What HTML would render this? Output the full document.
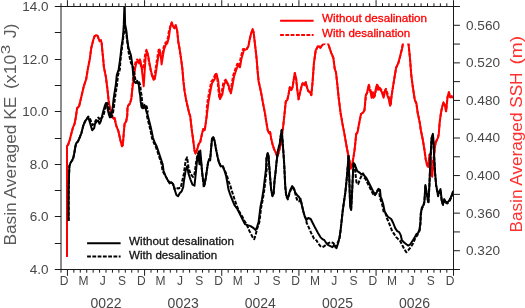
<!DOCTYPE html><html><head><meta charset="utf-8"><style>html,body{margin:0;padding:0;background:#fff;width:525px;height:308px;overflow:hidden}svg{display:block;will-change:transform}text{font-family:"Liberation Sans",sans-serif}</style></head><body>
<svg width="525" height="308" viewBox="0 0 525 308">
<path d="M67.0,257.0 L67.0,230.0 L67.0,200.0 L67.0,170.0 L67.0,146.0 L68.1,144.9 L68.9,142.4 L69.7,140.0 L70.7,136.0 L73.1,127.1 L74.5,124.1 L75.7,118.0 L77.1,108.3 L79.1,106.3 L81.7,95.2 L83.8,86.2 L86.2,79.1 L87.8,69.1 L89.8,59.0 L91.2,48.3 L93.2,40.2 L94.6,36.2 L96.2,35.2 L97.6,35.8 L98.8,39.2 L99.8,41.2 L100.9,40.2 L101.7,43.3 L102.3,50.3 L103.3,60.0 L103.9,67.1 L105.9,77.1 L107.3,88.0 L108.6,100.4 L109.9,108.2 L111.2,113.4 L112.5,117.3 L113.8,118.6 L114.7,117.9 L115.5,122.5 L116.4,126.1 L118.4,131.1 L120.4,140.2 L122.0,146.2 L122.8,145.2 L124.0,130.1 L124.6,123.8 L126.2,121.2 L127.2,116.0 L127.5,108.2 L128.1,105.6 L129.4,104.3 L130.3,102.3 L131.3,99.0 L132.3,89.0 L133.0,78.4 L134.4,67.4 L135.8,61.1 L137.2,59.4 L138.6,61.9 L139.9,59.4 L141.2,67.6 L141.7,66.4 L142.7,69.4 L143.8,64.4 L145.1,54.6 L146.4,49.8 L147.7,54.6 L148.8,61.1 L150.4,69.2 L151.6,74.1 L152.9,78.2 L154.2,77.4 L155.3,70.9 L156.5,62.8 L157.8,54.6 L159.0,48.1 L160.2,54.6 L160.8,56.4 L162.3,54.6 L163.4,48.1 L165.1,43.3 L166.7,41.6 L168.0,37.2 L169.0,30.4 L170.5,26.2 L171.7,22.5 L173.1,26.2 L174.5,28.2 L175.7,25.2 L177.1,30.2 L178.3,41.7 L179.7,49.5 L181.1,59.2 L182.4,69.0 L183.4,81.2 L184.6,91.2 L186.2,100.3 L187.8,107.3 L189.2,113.4 L190.2,116.0 L191.8,130.1 L193.2,140.2 L194.5,150.6 L195.5,153.5 L197.4,148.6 L198.8,143.8 L200.3,141.8 L201.9,134.1 L203.3,129.1 L204.7,130.1 L205.9,122.1 L206.8,115.0 L206.7,108.7 L207.8,99.7 L209.0,93.2 L210.2,86.7 L211.2,81.9 L213.5,78.5 L215.8,72.8 L217.4,79.6 L219.2,97.8 L221.5,93.2 L223.3,83.0 L225.6,79.6 L227.8,84.2 L230.1,92.1 L231.7,84.2 L233.3,75.1 L235.6,68.2 L237.4,63.7 L239.2,66.0 L240.8,56.9 L243.1,48.9 L246.8,49.1 L248.5,46.0 L249.5,40.2 L250.9,34.2 L252.6,29.2 L253.6,32.2 L255.0,44.3 L256.6,58.4 L257.6,71.1 L258.6,81.2 L260.2,88.2 L261.6,95.2 L263.0,103.3 L265.0,113.4 L266.0,120.1 L267.7,130.1 L269.1,133.1 L270.1,132.1 L271.1,138.2 L272.5,144.2 L274.1,149.2 L275.7,152.3 L277.1,156.3 L278.5,153.3 L279.7,148.2 L281.1,142.2 L282.1,134.1 L283.2,126.1 L284.2,117.0 L285.8,101.3 L287.2,100.3 L288.6,94.2 L289.8,87.2 L291.2,90.2 L292.6,87.2 L293.8,79.1 L294.8,73.1 L296.2,79.1 L297.2,89.2 L298.6,99.3 L299.9,93.2 L301.3,87.2 L302.7,83.2 L304.3,85.2 L305.7,82.2 L306.9,87.2 L308.3,91.2 L309.9,92.2 L311.3,95.2 L312.3,85.2 L312.8,79.0 L313.9,63.4 L315.7,50.4 L317.8,46.5 L319.0,46.2 L320.4,47.8 L322.5,44.7 L324.3,43.9 L326.0,38.0 L328.2,43.9 L329.5,47.8 L331.3,53.0 L333.4,58.2 L334.7,68.6 L336.0,72.5 L337.3,84.2 L338.6,97.1 L339.9,107.5 L340.7,114.0 L341.5,118.0 L342.5,124.1 L344.1,132.1 L345.5,140.2 L346.9,148.2 L348.5,156.3 L350.2,164.3 L350.6,168.6 L352.2,164.3 L353.6,156.3 L354.5,150.4 L355.0,146.2 L356.2,134.1 L357.6,132.1 L358.6,126.1 L359.8,120.0 L361.0,114.0 L362.4,113.0 L363.6,112.0 L364.5,110.0 L366.1,94.5 L367.4,92.2 L368.9,84.8 L370.1,88.8 L371.2,92.2 L372.0,96.7 L372.9,92.2 L373.8,96.7 L374.9,95.6 L376.3,87.6 L377.4,83.7 L378.4,88.8 L379.5,87.6 L380.6,88.8 L382.0,90.5 L383.1,93.9 L384.0,96.7 L384.8,91.0 L386.0,88.8 L387.1,92.2 L388.2,95.6 L389.4,99.0 L390.1,105.7 L390.9,103.4 L391.3,98.0 L392.3,91.2 L394.4,78.0 L396.1,67.8 L398.2,63.4 L400.2,56.1 L402.0,48.8 L403.1,42.9 L405.5,38.0 L408.4,42.9 L409.9,57.5 L411.3,75.1 L412.8,86.8 L414.8,99.9 L416.4,103.5 L417.7,113.1 L418.4,116.0 L420.0,124.1 L420.8,130.0 L422.8,139.7 L424.4,149.5 L425.7,159.2 L427.1,165.1 L428.3,167.0 L429.0,159.2 L429.6,154.4 L430.5,160.0 L431.5,166.0 L432.5,163.0 L434.1,155.3 L435.1,145.6 L436.4,140.7 L438.0,137.8 L438.8,133.9 L439.5,124.1 L440.5,116.0 L441.5,110.0 L442.1,107.3 L443.5,102.3 L444.9,105.3 L446.1,111.3 L447.5,97.3 L448.9,92.2 L450.2,97.3 L451.6,96.2 L452.6,98.3" fill="none" stroke="#ff0000" stroke-width="2.0" stroke-dasharray="3.8,1.5" stroke-linejoin="round"/>
<path d="M67.0,257.0 L67.0,230.0 L67.0,200.0 L67.0,170.0 L67.0,146.0 L68.1,144.9 L68.9,142.4 L69.7,140.0 L70.7,136.0 L73.1,127.1 L74.5,124.1 L75.7,118.0 L77.1,108.3 L79.1,106.3 L81.7,95.2 L83.8,86.2 L86.2,79.1 L87.8,69.1 L89.8,59.0 L91.2,48.3 L93.2,40.2 L94.6,36.2 L96.2,35.2 L97.6,35.8 L98.8,39.2 L99.8,41.2 L100.9,40.2 L101.7,43.3 L102.3,50.3 L103.3,60.0 L103.9,67.1 L105.9,77.1 L107.3,88.0 L108.6,100.4 L109.9,108.2 L111.2,113.4 L112.5,117.3 L113.8,118.6 L114.7,117.9 L115.5,122.5 L116.4,126.1 L118.4,131.1 L120.4,140.2 L122.0,146.2 L122.8,145.2 L124.0,130.1 L124.6,123.8 L126.2,121.2 L127.2,116.0 L127.5,108.2 L128.1,105.6 L129.4,104.3 L130.3,102.3 L131.3,99.0 L132.3,89.0 L133.6,80.0 L135.0,69.0 L136.4,62.7 L137.8,61.0 L139.2,63.5 L140.5,61.0 L141.8,69.2 L142.9,79.0 L143.7,86.3 L144.6,72.5 L145.7,56.2 L147.0,51.4 L148.3,56.2 L149.4,62.7 L151.0,70.8 L152.2,75.7 L153.5,79.8 L154.8,79.0 L155.9,72.5 L157.1,64.4 L158.4,56.2 L159.6,49.7 L160.8,56.2 L161.6,64.4 L162.9,56.2 L164.0,49.7 L165.7,44.9 L167.3,43.2 L168.6,38.8 L169.6,32.0 L170.5,26.2 L171.7,22.5 L173.1,26.2 L174.5,28.2 L175.7,25.2 L177.1,30.2 L178.3,41.7 L179.7,49.5 L181.1,59.2 L182.4,69.0 L183.4,81.2 L184.6,91.2 L186.2,100.3 L187.8,107.3 L189.2,113.4 L190.2,116.0 L191.8,130.1 L193.2,140.2 L194.5,150.6 L195.5,153.5 L197.4,148.6 L198.8,143.8 L200.3,141.8 L201.9,134.1 L203.3,129.1 L204.7,130.1 L205.9,122.1 L206.8,115.0 L207.5,110.0 L208.6,101.0 L209.8,94.5 L211.0,88.0 L212.0,83.2 L214.3,79.8 L216.6,74.1 L218.2,80.9 L220.0,99.1 L222.3,94.5 L224.1,84.3 L226.4,80.9 L228.6,85.5 L230.9,93.4 L232.5,85.5 L234.1,76.4 L236.4,69.5 L238.2,65.0 L240.0,67.3 L241.6,58.2 L243.9,50.2 L246.8,49.1 L248.5,46.0 L249.5,40.2 L250.9,34.2 L252.6,29.2 L253.6,32.2 L255.0,44.3 L256.6,58.4 L257.6,71.1 L258.6,81.2 L260.2,88.2 L261.6,95.2 L263.0,103.3 L265.0,113.4 L266.0,120.1 L267.7,130.1 L269.1,133.1 L270.1,132.1 L271.1,138.2 L272.5,144.2 L274.1,149.2 L275.7,152.3 L277.1,156.3 L278.5,153.3 L279.7,148.2 L281.1,142.2 L282.1,134.1 L283.2,126.1 L284.2,117.0 L285.8,101.3 L287.2,100.3 L288.6,94.2 L289.8,87.2 L291.2,90.2 L292.6,87.2 L293.8,79.1 L294.8,73.1 L296.2,79.1 L297.2,89.2 L298.6,99.3 L299.9,93.2 L301.3,87.2 L302.7,83.2 L304.3,85.2 L305.7,82.2 L306.9,87.2 L308.3,91.2 L309.9,92.2 L311.3,95.2 L312.3,85.2 L312.8,79.0 L313.9,63.4 L315.7,50.4 L317.8,46.5 L319.0,46.2 L320.4,47.8 L322.5,44.7 L324.3,43.9 L326.0,38.0 L328.2,43.9 L329.5,47.8 L331.3,53.0 L333.4,58.2 L334.7,68.6 L336.0,72.5 L337.3,84.2 L338.6,97.1 L339.9,107.5 L340.7,114.0 L341.5,118.0 L342.5,124.1 L344.1,132.1 L345.5,140.2 L346.9,148.2 L348.5,156.3 L350.2,164.3 L350.6,168.6 L352.2,164.3 L353.6,156.3 L354.5,150.4 L355.0,146.2 L356.2,134.1 L357.6,132.1 L358.6,126.1 L359.8,120.0 L361.0,114.0 L362.4,113.0 L363.6,112.0 L364.5,110.0 L365.7,95.5 L367.0,93.2 L368.5,85.8 L369.7,89.8 L370.8,93.2 L371.6,97.7 L372.5,93.2 L373.4,97.7 L374.5,96.6 L375.9,88.6 L377.0,84.7 L378.0,89.8 L379.1,88.6 L380.2,89.8 L381.6,91.5 L382.7,94.9 L383.6,97.7 L384.4,92.0 L385.6,89.8 L386.7,93.2 L387.8,96.6 L389.0,100.0 L390.1,105.7 L390.9,103.4 L391.3,98.0 L392.3,91.2 L394.4,78.0 L396.1,67.8 L398.2,63.4 L400.2,56.1 L402.0,48.8 L403.1,42.9 L405.5,38.0 L408.4,42.9 L409.9,57.5 L411.3,75.1 L412.8,86.8 L414.8,99.9 L416.4,103.5 L417.7,113.1 L418.4,116.0 L420.0,124.1 L420.8,130.0 L422.8,139.7 L424.4,149.5 L425.7,159.2 L427.1,165.1 L428.3,167.0 L429.0,159.2 L429.6,154.4 L430.6,163.1 L431.6,174.8 L432.2,176.8 L432.9,169.0 L434.1,155.3 L435.1,145.6 L436.4,140.7 L438.0,137.8 L438.8,133.9 L439.5,124.1 L440.5,116.0 L441.5,110.0 L442.1,107.3 L443.5,102.3 L444.9,105.3 L446.1,111.3 L447.5,97.3 L448.9,92.2 L450.2,97.3 L451.6,96.2 L452.6,98.3" fill="none" stroke="#ff0000" stroke-width="2.0" stroke-linejoin="round"/>
<path d="M68.6,221.0 L68.6,205.0 L68.7,190.0 L69.0,175.7 L69.4,166.0 L70.6,162.7 L72.2,160.3 L73.3,157.9 L74.3,153.0 L75.4,146.5 L76.2,143.2 L77.9,141.6 L79.5,138.0 L81.4,133.1 L83.4,125.3 L85.0,121.5 L86.3,119.5 L88.2,116.5 L89.8,118.0 L91.2,122.0 L92.6,125.0 L94.2,124.0 L95.5,121.0 L97.0,118.5 L98.5,117.5 L100.0,120.0 L101.0,118.5 L103.3,116.0 L104.6,110.8 L105.9,106.2 L107.2,103.0 L108.1,104.3 L109.2,110.8 L110.2,114.7 L111.1,117.3 L112.0,116.6 L113.1,112.1 L114.1,105.6 L114.8,99.1 L115.4,95.0 L117.0,84.8 L118.0,75.1 L119.9,69.2 L120.3,62.0 L121.2,54.0 L122.2,46.0 L123.2,38.0 L124.1,31.0 L125.0,27.0 L125.8,30.0 L126.6,36.0 L127.6,44.0 L128.6,52.0 L129.8,58.0 L131.0,63.0 L132.4,65.3 L134.7,75.1 L135.7,81.9 L137.1,82.9 L138.6,80.9 L140.2,84.8 L141.0,92.6 L141.6,95.2 L142.1,101.7 L142.9,106.9 L143.8,108.2 L144.7,106.9 L145.8,104.9 L146.8,106.9 L147.7,111.4 L146.6,114.7 L147.9,119.9 L149.2,125.1 L150.6,131.0 L152.0,138.0 L153.6,142.2 L155.6,146.2 L157.6,152.0 L159.6,158.0 L161.6,164.0 L162.6,171.0 L165.6,176.1 L167.7,180.1 L169.7,183.1 L171.1,182.1 L173.1,184.1 L174.5,189.1 L175.0,187.6 L178.0,188.5 L180.8,187.6 L183.8,174.0 L185.7,160.3 L187.1,157.4 L188.6,168.1 L190.6,174.0 L192.9,176.9 L194.5,174.0 L196.4,160.3 L198.0,153.5 L199.4,150.6 L200.7,158.4 L202.3,174.0 L203.8,187.6 L205.0,182.0 L205.8,177.9 L207.2,168.1 L208.1,162.3 L209.1,159.4 L210.1,160.3 L211.1,148.6 L212.0,138.9 L213.2,137.0 L214.6,140.8 L215.9,148.6 L217.5,156.4 L218.9,162.3 L220.8,166.2 L222.8,166.2 L224.7,171.1 L225.5,172.0 L227.0,176.0 L228.5,181.0 L230.4,186.0 L232.5,193.0 L234.5,199.2 L236.5,205.0 L238.5,210.0 L240.5,214.0 L242.5,217.0 L244.5,221.0 L246.5,224.1 L248.0,227.5 L249.5,231.1 L251.0,234.0 L252.6,237.1 L254.2,239.1 L255.6,235.1 L257.0,229.1 L259.4,222.0 L261.2,207.3 L262.8,199.2 L264.4,189.1 L265.8,177.1 L266.8,169.0 L266.5,158.3 L267.7,153.3 L268.5,155.3 L269.1,164.3 L270.1,177.1 L271.1,189.1 L272.5,196.2 L273.7,193.2 L274.5,181.1 L275.7,171.0 L276.5,162.3 L277.5,154.3 L278.5,148.2 L279.7,144.2 L280.7,136.2 L281.7,130.1 L282.5,140.2 L283.4,152.3 L284.2,164.3 L285.2,186.3 L286.2,196.4 L287.8,199.4 L289.2,194.4 L290.6,190.3 L292.2,187.3 L294.2,189.5 L295.4,194.0 L296.6,198.5 L298.0,201.5 L299.5,201.2 L300.6,199.0 L301.9,205.2 L303.3,211.3 L304.7,216.3 L306.3,219.0 L306.6,222.8 L308.1,225.9 L309.6,229.3 L311.1,232.9 L312.6,235.8 L314.1,238.9 L316.6,240.5 L318.0,243.2 L320.4,246.2 L322.4,247.2 L323.8,246.5 L325.4,245.2 L327.0,244.0 L328.4,243.2 L330.4,242.2 L332.0,242.5 L333.5,243.2 L335.5,247.2 L337.5,243.2 L339.5,239.1 L340.5,231.1 L341.5,222.0 L342.8,210.1 L344.1,201.0 L345.4,192.0 L346.7,179.0 L348.0,163.4 L348.5,156.0 L349.3,179.0 L350.1,205.0 L351.1,210.1 L352.1,192.0 L352.9,175.0 L353.6,163.0 L354.9,166.2 L355.7,176.0 L356.5,182.5 L358.1,184.1 L359.7,180.0 L361.4,176.0 L363.0,173.5 L363.8,177.2 L365.4,178.8 L367.9,183.7 L370.3,188.5 L372.7,193.4 L374.4,195.8 L376.0,193.4 L377.6,190.1 L379.2,191.0 L379.9,198.4 L380.9,200.4 L382.4,205.4 L383.8,212.5 L386.2,214.3 L386.2,217.0 L388.2,221.0 L390.2,226.1 L392.2,231.1 L394.2,234.1 L396.2,237.1 L398.2,239.1 L400.3,241.2 L402.3,245.2 L404.3,249.2 L406.3,252.2 L408.3,250.2 L410.7,247.2 L413.3,243.2 L415.3,238.1 L417.4,235.1 L419.4,230.1 L419.4,232.1 L420.4,224.0 L420.8,214.3 L422.0,208.3 L423.4,206.2 L424.4,202.2 L425.4,186.1 L426.4,192.2 L427.4,198.2 L428.4,203.2 L429.4,186.0 L430.4,161.0 L431.6,138.8 L432.9,134.9 L433.5,142.7 L434.1,156.3 L435.1,173.9 L436.1,185.6 L438.1,196.2 L439.5,192.2 L440.5,190.1 L441.8,201.8 L443.0,205.0 L444.3,200.1 L445.6,202.6 L447.2,203.4 L449.1,201.8 L450.8,198.5 L452.1,195.3 L453.2,191.0" fill="none" stroke="#000" stroke-width="2.0" stroke-dasharray="3.8,1.5" stroke-linejoin="round"/>
<path d="M68.6,221.0 L68.6,205.0 L68.7,190.0 L69.0,175.7 L69.4,166.0 L70.6,162.7 L72.2,160.3 L73.3,157.9 L74.3,153.0 L75.4,146.5 L76.2,143.2 L77.9,141.6 L79.5,138.0 L81.4,133.1 L83.4,125.3 L85.0,121.5 L86.3,119.5 L88.3,117.5 L90.2,123.4 L92.2,130.2 L94.2,128.1 L95.0,123.8 L97.0,121.2 L98.2,120.5 L99.5,123.8 L100.8,121.2 L102.1,116.0 L103.4,110.8 L104.7,106.2 L106.0,103.0 L106.9,104.3 L108.0,110.8 L109.0,114.7 L109.9,117.3 L110.8,116.6 L111.9,112.1 L112.9,105.6 L113.6,99.1 L114.2,95.0 L115.8,84.8 L116.8,75.1 L118.7,69.2 L120.1,59.5 L121.6,45.8 L122.6,40.0 L123.3,32.5 L123.8,24.4 L124.1,15.0 L124.4,7.0 L124.7,7.0 L124.9,15.0 L125.1,24.4 L125.7,27.5 L126.4,31.0 L126.9,36.0 L127.4,41.0 L128.5,47.8 L131.0,55.6 L132.4,65.3 L133.3,75.1 L134.3,81.9 L135.7,82.9 L137.2,80.9 L138.8,84.8 L139.6,92.6 L140.2,95.2 L140.7,101.7 L141.5,106.9 L142.4,108.2 L143.3,106.9 L144.4,104.9 L145.4,106.9 L146.3,111.4 L147.6,114.7 L148.9,119.9 L150.2,125.1 L151.6,131.0 L153.0,138.0 L154.6,142.2 L156.6,146.2 L158.6,152.0 L160.6,158.0 L162.6,164.0 L163.6,171.0 L165.6,176.1 L167.7,180.1 L169.7,183.1 L171.1,182.1 L173.1,184.1 L174.5,189.1 L176.5,195.2 L178.1,196.2 L179.7,193.2 L181.7,191.2 L183.2,187.1 L183.8,181.8 L185.7,170.1 L187.1,166.2 L188.6,174.0 L190.6,179.8 L192.5,184.7 L194.5,185.7 L196.1,170.1 L197.4,156.4 L198.4,154.5 L199.4,164.2 L200.3,150.6 L201.3,162.3 L202.3,174.0 L203.7,183.7 L204.6,184.7 L205.8,177.9 L207.2,168.1 L208.1,162.3 L209.1,159.4 L210.1,160.3 L211.1,148.6 L212.0,138.9 L213.2,137.0 L214.6,140.8 L215.9,148.6 L217.5,156.4 L218.9,162.3 L220.8,166.2 L222.8,166.2 L224.7,171.1 L226.1,175.9 L227.4,183.1 L228.4,189.1 L230.4,195.2 L232.4,200.2 L234.5,205.2 L236.9,208.3 L238.5,211.3 L240.5,215.3 L242.5,219.3 L244.9,224.1 L247.5,225.1 L250.6,226.1 L253.6,228.1 L255.6,230.1 L257.0,227.1 L258.6,222.0 L260.4,207.3 L262.0,199.2 L263.6,189.1 L265.0,177.1 L266.0,169.0 L266.5,158.3 L267.7,153.3 L268.5,155.3 L269.1,164.3 L270.1,177.1 L271.1,189.1 L272.5,196.2 L273.7,193.2 L274.5,181.1 L275.7,171.0 L276.5,162.3 L277.5,154.3 L278.5,148.2 L279.7,144.2 L280.7,136.2 L281.7,130.1 L282.5,140.2 L283.4,152.3 L284.2,164.3 L285.2,185.1 L286.2,195.2 L287.8,198.2 L289.2,193.2 L290.6,189.1 L292.2,186.1 L293.8,188.1 L295.2,192.2 L297.2,195.2 L299.2,197.2 L300.7,200.2 L301.9,205.2 L303.3,211.3 L304.7,216.3 L306.3,220.0 L308.3,218.0 L310.7,219.0 L312.7,223.0 L315.3,228.1 L318.0,233.1 L320.4,237.1 L322.4,239.1 L324.4,240.2 L326.4,243.2 L328.4,245.2 L330.4,246.2 L332.4,247.2 L334.1,245.2 L335.5,246.2 L336.5,248.2 L338.1,243.2 L339.5,237.1 L340.5,231.1 L341.5,222.0 L342.8,210.1 L344.1,201.0 L345.4,192.0 L346.7,179.0 L348.0,163.4 L348.5,156.0 L349.3,179.0 L350.1,205.0 L351.1,210.1 L352.1,192.0 L352.9,175.0 L353.6,163.0 L354.9,164.6 L356.0,168.0 L357.3,171.1 L359.7,172.7 L361.4,174.4 L363.0,173.5 L364.6,176.0 L366.2,177.6 L368.7,182.5 L371.1,187.3 L373.5,192.2 L375.2,194.6 L376.8,192.2 L378.4,188.9 L380.0,189.8 L380.7,197.2 L381.7,199.2 L383.2,204.2 L384.6,211.3 L386.2,214.3 L388.2,217.0 L391.2,219.0 L393.2,223.0 L395.2,228.1 L397.2,231.1 L399.2,232.1 L400.7,235.1 L401.9,240.2 L403.9,242.2 L406.3,244.2 L408.3,245.6 L410.3,244.2 L412.3,241.2 L414.3,238.1 L416.4,234.1 L418.0,233.1 L419.4,230.1 L420.4,223.0 L420.8,213.3 L422.0,207.3 L423.4,205.2 L424.4,201.2 L425.4,185.1 L426.4,191.2 L427.4,197.2 L428.4,202.2 L429.4,185.0 L430.4,160.0 L431.6,137.8 L432.9,133.9 L433.5,141.7 L434.1,155.3 L435.1,172.9 L436.1,184.6 L438.1,195.2 L439.5,191.2 L440.5,189.1 L441.8,200.8 L443.0,204.0 L444.3,199.1 L445.6,201.6 L447.2,202.4 L449.1,200.8 L450.8,197.5 L452.1,194.3 L453.2,191.0" fill="none" stroke="#000" stroke-width="2.0" stroke-linejoin="round"/>
<g stroke="#1a1a1a" stroke-width="1" fill="none">
<line x1="60.5" y1="6.5" x2="454.0" y2="6.5"/>
<line x1="60.5" y1="269.5" x2="454.0" y2="269.5"/>
<line x1="61.0" y1="6.5" x2="61.0" y2="269.5"/>
<line x1="453.5" y1="6.5" x2="453.5" y2="269.5"/>
<line x1="61.00" y1="6.5" x2="61.00" y2="3.30"/>
<line x1="61.00" y1="269.5" x2="61.00" y2="272.70"/>
<line x1="67.43" y1="6.5" x2="67.43" y2="0.20"/>
<line x1="67.43" y1="269.5" x2="67.43" y2="275.80"/>
<line x1="73.86" y1="6.5" x2="73.86" y2="3.30"/>
<line x1="73.86" y1="269.5" x2="73.86" y2="272.70"/>
<line x1="80.29" y1="6.5" x2="80.29" y2="3.30"/>
<line x1="80.29" y1="269.5" x2="80.29" y2="272.70"/>
<line x1="86.72" y1="6.5" x2="86.72" y2="3.30"/>
<line x1="86.72" y1="269.5" x2="86.72" y2="272.70"/>
<line x1="93.15" y1="6.5" x2="93.15" y2="3.30"/>
<line x1="93.15" y1="269.5" x2="93.15" y2="272.70"/>
<line x1="99.58" y1="6.5" x2="99.58" y2="3.30"/>
<line x1="99.58" y1="269.5" x2="99.58" y2="272.70"/>
<line x1="106.01" y1="6.5" x2="106.01" y2="3.30"/>
<line x1="106.01" y1="269.5" x2="106.01" y2="272.70"/>
<line x1="112.44" y1="6.5" x2="112.44" y2="3.30"/>
<line x1="112.44" y1="269.5" x2="112.44" y2="272.70"/>
<line x1="118.87" y1="6.5" x2="118.87" y2="3.30"/>
<line x1="118.87" y1="269.5" x2="118.87" y2="272.70"/>
<line x1="125.30" y1="6.5" x2="125.30" y2="3.30"/>
<line x1="125.30" y1="269.5" x2="125.30" y2="272.70"/>
<line x1="131.73" y1="6.5" x2="131.73" y2="3.30"/>
<line x1="131.73" y1="269.5" x2="131.73" y2="272.70"/>
<line x1="138.16" y1="6.5" x2="138.16" y2="3.30"/>
<line x1="138.16" y1="269.5" x2="138.16" y2="272.70"/>
<line x1="144.59" y1="6.5" x2="144.59" y2="0.20"/>
<line x1="144.59" y1="269.5" x2="144.59" y2="275.80"/>
<line x1="151.02" y1="6.5" x2="151.02" y2="3.30"/>
<line x1="151.02" y1="269.5" x2="151.02" y2="272.70"/>
<line x1="157.45" y1="6.5" x2="157.45" y2="3.30"/>
<line x1="157.45" y1="269.5" x2="157.45" y2="272.70"/>
<line x1="163.88" y1="6.5" x2="163.88" y2="3.30"/>
<line x1="163.88" y1="269.5" x2="163.88" y2="272.70"/>
<line x1="170.31" y1="6.5" x2="170.31" y2="3.30"/>
<line x1="170.31" y1="269.5" x2="170.31" y2="272.70"/>
<line x1="176.74" y1="6.5" x2="176.74" y2="3.30"/>
<line x1="176.74" y1="269.5" x2="176.74" y2="272.70"/>
<line x1="183.17" y1="6.5" x2="183.17" y2="3.30"/>
<line x1="183.17" y1="269.5" x2="183.17" y2="272.70"/>
<line x1="189.60" y1="6.5" x2="189.60" y2="3.30"/>
<line x1="189.60" y1="269.5" x2="189.60" y2="272.70"/>
<line x1="196.03" y1="6.5" x2="196.03" y2="3.30"/>
<line x1="196.03" y1="269.5" x2="196.03" y2="272.70"/>
<line x1="202.46" y1="6.5" x2="202.46" y2="3.30"/>
<line x1="202.46" y1="269.5" x2="202.46" y2="272.70"/>
<line x1="208.89" y1="6.5" x2="208.89" y2="3.30"/>
<line x1="208.89" y1="269.5" x2="208.89" y2="272.70"/>
<line x1="215.32" y1="6.5" x2="215.32" y2="3.30"/>
<line x1="215.32" y1="269.5" x2="215.32" y2="272.70"/>
<line x1="221.75" y1="6.5" x2="221.75" y2="0.20"/>
<line x1="221.75" y1="269.5" x2="221.75" y2="275.80"/>
<line x1="228.18" y1="6.5" x2="228.18" y2="3.30"/>
<line x1="228.18" y1="269.5" x2="228.18" y2="272.70"/>
<line x1="234.61" y1="6.5" x2="234.61" y2="3.30"/>
<line x1="234.61" y1="269.5" x2="234.61" y2="272.70"/>
<line x1="241.04" y1="6.5" x2="241.04" y2="3.30"/>
<line x1="241.04" y1="269.5" x2="241.04" y2="272.70"/>
<line x1="247.47" y1="6.5" x2="247.47" y2="3.30"/>
<line x1="247.47" y1="269.5" x2="247.47" y2="272.70"/>
<line x1="253.90" y1="6.5" x2="253.90" y2="3.30"/>
<line x1="253.90" y1="269.5" x2="253.90" y2="272.70"/>
<line x1="260.33" y1="6.5" x2="260.33" y2="3.30"/>
<line x1="260.33" y1="269.5" x2="260.33" y2="272.70"/>
<line x1="266.76" y1="6.5" x2="266.76" y2="3.30"/>
<line x1="266.76" y1="269.5" x2="266.76" y2="272.70"/>
<line x1="273.19" y1="6.5" x2="273.19" y2="3.30"/>
<line x1="273.19" y1="269.5" x2="273.19" y2="272.70"/>
<line x1="279.62" y1="6.5" x2="279.62" y2="3.30"/>
<line x1="279.62" y1="269.5" x2="279.62" y2="272.70"/>
<line x1="286.05" y1="6.5" x2="286.05" y2="3.30"/>
<line x1="286.05" y1="269.5" x2="286.05" y2="272.70"/>
<line x1="292.48" y1="6.5" x2="292.48" y2="3.30"/>
<line x1="292.48" y1="269.5" x2="292.48" y2="272.70"/>
<line x1="298.91" y1="6.5" x2="298.91" y2="0.20"/>
<line x1="298.91" y1="269.5" x2="298.91" y2="275.80"/>
<line x1="305.34" y1="6.5" x2="305.34" y2="3.30"/>
<line x1="305.34" y1="269.5" x2="305.34" y2="272.70"/>
<line x1="311.77" y1="6.5" x2="311.77" y2="3.30"/>
<line x1="311.77" y1="269.5" x2="311.77" y2="272.70"/>
<line x1="318.20" y1="6.5" x2="318.20" y2="3.30"/>
<line x1="318.20" y1="269.5" x2="318.20" y2="272.70"/>
<line x1="324.63" y1="6.5" x2="324.63" y2="3.30"/>
<line x1="324.63" y1="269.5" x2="324.63" y2="272.70"/>
<line x1="331.06" y1="6.5" x2="331.06" y2="3.30"/>
<line x1="331.06" y1="269.5" x2="331.06" y2="272.70"/>
<line x1="337.49" y1="6.5" x2="337.49" y2="3.30"/>
<line x1="337.49" y1="269.5" x2="337.49" y2="272.70"/>
<line x1="343.92" y1="6.5" x2="343.92" y2="3.30"/>
<line x1="343.92" y1="269.5" x2="343.92" y2="272.70"/>
<line x1="350.35" y1="6.5" x2="350.35" y2="3.30"/>
<line x1="350.35" y1="269.5" x2="350.35" y2="272.70"/>
<line x1="356.78" y1="6.5" x2="356.78" y2="3.30"/>
<line x1="356.78" y1="269.5" x2="356.78" y2="272.70"/>
<line x1="363.21" y1="6.5" x2="363.21" y2="3.30"/>
<line x1="363.21" y1="269.5" x2="363.21" y2="272.70"/>
<line x1="369.64" y1="6.5" x2="369.64" y2="3.30"/>
<line x1="369.64" y1="269.5" x2="369.64" y2="272.70"/>
<line x1="376.07" y1="6.5" x2="376.07" y2="0.20"/>
<line x1="376.07" y1="269.5" x2="376.07" y2="275.80"/>
<line x1="382.50" y1="6.5" x2="382.50" y2="3.30"/>
<line x1="382.50" y1="269.5" x2="382.50" y2="272.70"/>
<line x1="388.93" y1="6.5" x2="388.93" y2="3.30"/>
<line x1="388.93" y1="269.5" x2="388.93" y2="272.70"/>
<line x1="395.36" y1="6.5" x2="395.36" y2="3.30"/>
<line x1="395.36" y1="269.5" x2="395.36" y2="272.70"/>
<line x1="401.79" y1="6.5" x2="401.79" y2="3.30"/>
<line x1="401.79" y1="269.5" x2="401.79" y2="272.70"/>
<line x1="408.22" y1="6.5" x2="408.22" y2="3.30"/>
<line x1="408.22" y1="269.5" x2="408.22" y2="272.70"/>
<line x1="414.65" y1="6.5" x2="414.65" y2="3.30"/>
<line x1="414.65" y1="269.5" x2="414.65" y2="272.70"/>
<line x1="421.08" y1="6.5" x2="421.08" y2="3.30"/>
<line x1="421.08" y1="269.5" x2="421.08" y2="272.70"/>
<line x1="427.51" y1="6.5" x2="427.51" y2="3.30"/>
<line x1="427.51" y1="269.5" x2="427.51" y2="272.70"/>
<line x1="433.94" y1="6.5" x2="433.94" y2="3.30"/>
<line x1="433.94" y1="269.5" x2="433.94" y2="272.70"/>
<line x1="440.37" y1="6.5" x2="440.37" y2="3.30"/>
<line x1="440.37" y1="269.5" x2="440.37" y2="272.70"/>
<line x1="446.80" y1="6.5" x2="446.80" y2="3.30"/>
<line x1="446.80" y1="269.5" x2="446.80" y2="272.70"/>
<line x1="453.50" y1="6.5" x2="453.50" y2="0.20"/>
<line x1="453.50" y1="269.5" x2="453.50" y2="275.80"/>
<line x1="61.0" y1="269.5" x2="54.8" y2="269.5"/>
<line x1="61.0" y1="243.5" x2="54.8" y2="243.5"/>
<line x1="61.0" y1="216.5" x2="54.8" y2="216.5"/>
<line x1="61.0" y1="190.5" x2="54.8" y2="190.5"/>
<line x1="61.0" y1="164.5" x2="54.8" y2="164.5"/>
<line x1="61.0" y1="138.5" x2="54.8" y2="138.5"/>
<line x1="61.0" y1="111.5" x2="54.8" y2="111.5"/>
<line x1="61.0" y1="85.5" x2="54.8" y2="85.5"/>
<line x1="61.0" y1="59.5" x2="54.8" y2="59.5"/>
<line x1="61.0" y1="32.5" x2="54.8" y2="32.5"/>
<line x1="61.0" y1="6.5" x2="54.8" y2="6.5"/>
<line x1="453.5" y1="6.50" x2="459.9" y2="6.50"/>
<line x1="453.5" y1="25.29" x2="459.9" y2="25.29"/>
<line x1="453.5" y1="44.07" x2="459.9" y2="44.07"/>
<line x1="453.5" y1="62.86" x2="459.9" y2="62.86"/>
<line x1="453.5" y1="81.64" x2="459.9" y2="81.64"/>
<line x1="453.5" y1="100.43" x2="459.9" y2="100.43"/>
<line x1="453.5" y1="119.22" x2="459.9" y2="119.22"/>
<line x1="453.5" y1="138.00" x2="459.9" y2="138.00"/>
<line x1="453.5" y1="156.79" x2="459.9" y2="156.79"/>
<line x1="453.5" y1="175.57" x2="459.9" y2="175.57"/>
<line x1="453.5" y1="194.36" x2="459.9" y2="194.36"/>
<line x1="453.5" y1="213.15" x2="459.9" y2="213.15"/>
<line x1="453.5" y1="231.93" x2="459.9" y2="231.93"/>
<line x1="453.5" y1="250.72" x2="459.9" y2="250.72"/>
<line x1="453.5" y1="269.50" x2="459.9" y2="269.50"/>
</g>
<g fill="#474747" font-size="12.6">
<text x="29.86" y="273.9" textLength="18.74" lengthAdjust="spacingAndGlyphs">4.0</text>
<text x="29.86" y="221.3" textLength="18.74" lengthAdjust="spacingAndGlyphs">6.0</text>
<text x="29.86" y="168.7" textLength="18.74" lengthAdjust="spacingAndGlyphs">8.0</text>
<text x="22.36" y="116.1" textLength="26.24" lengthAdjust="spacingAndGlyphs">10.0</text>
<text x="22.36" y="63.5" textLength="26.24" lengthAdjust="spacingAndGlyphs">12.0</text>
<text x="22.36" y="10.9" textLength="26.24" lengthAdjust="spacingAndGlyphs">14.0</text>
<text x="466.0" y="29.7" textLength="34" lengthAdjust="spacingAndGlyphs">0.560</text>
<text x="466.0" y="67.3" textLength="34" lengthAdjust="spacingAndGlyphs">0.520</text>
<text x="466.0" y="104.8" textLength="34" lengthAdjust="spacingAndGlyphs">0.480</text>
<text x="466.0" y="142.4" textLength="34" lengthAdjust="spacingAndGlyphs">0.440</text>
<text x="466.0" y="180.0" textLength="34" lengthAdjust="spacingAndGlyphs">0.400</text>
<text x="466.0" y="217.5" textLength="34" lengthAdjust="spacingAndGlyphs">0.360</text>
<text x="466.0" y="255.1" textLength="34" lengthAdjust="spacingAndGlyphs">0.320</text>
<text x="64.2" y="285.0" text-anchor="middle" font-size="12">D</text>
<text x="83.5" y="285.0" text-anchor="middle" font-size="12">M</text>
<text x="102.8" y="285.0" text-anchor="middle" font-size="12">J</text>
<text x="122.1" y="285.0" text-anchor="middle" font-size="12">S</text>
<text x="141.4" y="285.0" text-anchor="middle" font-size="12">D</text>
<text x="160.6" y="285.0" text-anchor="middle" font-size="12">M</text>
<text x="179.9" y="285.0" text-anchor="middle" font-size="12">J</text>
<text x="199.2" y="285.0" text-anchor="middle" font-size="12">S</text>
<text x="218.5" y="285.0" text-anchor="middle" font-size="12">D</text>
<text x="237.8" y="285.0" text-anchor="middle" font-size="12">M</text>
<text x="257.1" y="285.0" text-anchor="middle" font-size="12">J</text>
<text x="276.4" y="285.0" text-anchor="middle" font-size="12">S</text>
<text x="295.7" y="285.0" text-anchor="middle" font-size="12">D</text>
<text x="315.0" y="285.0" text-anchor="middle" font-size="12">M</text>
<text x="334.3" y="285.0" text-anchor="middle" font-size="12">J</text>
<text x="353.5" y="285.0" text-anchor="middle" font-size="12">S</text>
<text x="372.8" y="285.0" text-anchor="middle" font-size="12">D</text>
<text x="392.1" y="285.0" text-anchor="middle" font-size="12">M</text>
<text x="411.4" y="285.0" text-anchor="middle" font-size="12">J</text>
<text x="430.7" y="285.0" text-anchor="middle" font-size="12">S</text>
<text x="450.0" y="285.0" text-anchor="middle" font-size="12">D</text>
<text x="106.0" y="308.2" text-anchor="middle" font-size="14">0022</text>
<text x="183.2" y="308.2" text-anchor="middle" font-size="14">0023</text>
<text x="260.3" y="308.2" text-anchor="middle" font-size="14">0024</text>
<text x="337.5" y="308.2" text-anchor="middle" font-size="14">0025</text>
<text x="414.6" y="308.2" text-anchor="middle" font-size="14">0026</text>
</g>
<text transform="translate(15.6,245.6) rotate(-90)" fill="#5a5a5a" font-size="16" textLength="149.0" lengthAdjust="spacingAndGlyphs">Basin Averaged KE</text>
<text transform="translate(15.6,89.0) rotate(-90)" fill="#5a5a5a" font-size="16" textLength="34.3" lengthAdjust="spacingAndGlyphs">(x10</text>
<text transform="translate(9.6,54.3) rotate(-90)" fill="#5a5a5a" font-size="12" textLength="9.5" lengthAdjust="spacingAndGlyphs">3</text>
<text transform="translate(15.6,38.1) rotate(-90)" fill="#5a5a5a" font-size="16" textLength="14.4" lengthAdjust="spacingAndGlyphs">J)</text>
<text transform="translate(521.6,232.5) rotate(-90)" fill="#ff3030" font-size="16" textLength="160.0" lengthAdjust="spacingAndGlyphs">Basin Averaged SSH</text>
<text transform="translate(521.6,64.5) rotate(-90)" fill="#ff3030" font-size="16" textLength="28.6" lengthAdjust="spacingAndGlyphs">(m)</text>
<rect x="276" y="8" width="156" height="35.5" fill="#fff"/>
<line x1="280.1" y1="20.8" x2="313.6" y2="20.8" stroke="#ff0000" stroke-width="2"/>
<line x1="280.1" y1="35.0" x2="313.6" y2="35.0" stroke="#ff0000" stroke-width="2" stroke-dasharray="3.8,1.47"/>
<text x="322.1" y="22.0" fill="#ff0000" stroke="#ff0000" stroke-width="0.3" font-size="11.4" textLength="105" lengthAdjust="spacingAndGlyphs">Without desalination</text>
<text x="322.1" y="36.9" fill="#ff0000" stroke="#ff0000" stroke-width="0.3" font-size="11.4" textLength="88" lengthAdjust="spacingAndGlyphs">With desalination</text>
<line x1="87.1" y1="243.3" x2="120.6" y2="243.3" stroke="#000" stroke-width="2"/>
<line x1="87.1" y1="256.4" x2="120.6" y2="256.4" stroke="#000" stroke-width="2" stroke-dasharray="3.8,1.47"/>
<text x="129.1" y="244.5" fill="#111" stroke="#111" stroke-width="0.3" font-size="11.4" textLength="105" lengthAdjust="spacingAndGlyphs">Without desalination</text>
<text x="129.1" y="259.2" fill="#111" stroke="#111" stroke-width="0.3" font-size="11.4" textLength="88" lengthAdjust="spacingAndGlyphs">With desalination</text>
</svg></body></html>
